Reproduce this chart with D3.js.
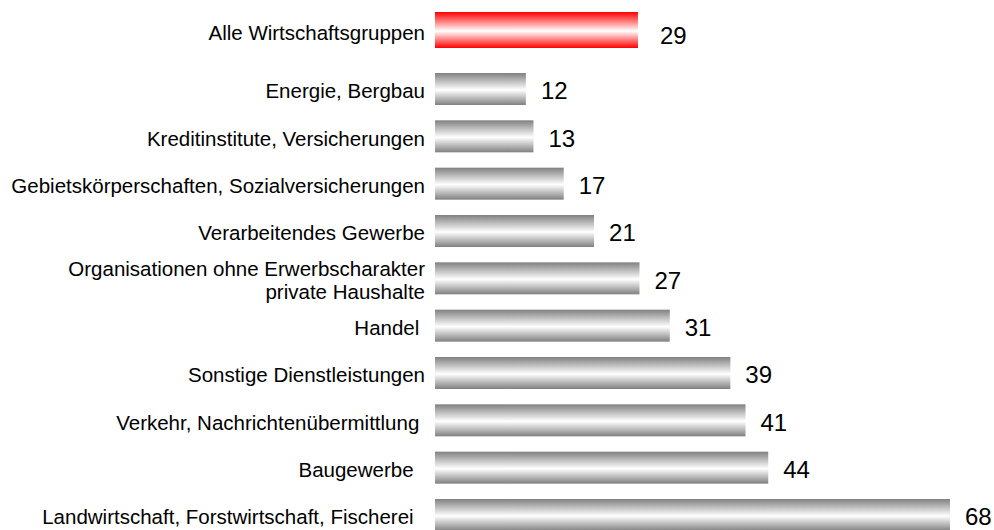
<!DOCTYPE html>
<html>
<head>
<meta charset="utf-8">
<script src="https://cdn.jsdelivr.net/npm/d3@7"></script>
<style>
  body { margin: 0; background: #fff; }
  svg { display: block; font-family: "Liberation Sans", Arial, sans-serif; }
  text { white-space: pre; }
</style>
</head>
<body>
<script>
// total row (red)
let totalName = "Alle Wirtschaftsgruppen"
let totalValue = 26.8   // bar length as drawn
let totalLabel = "29"   // number printed next to it

let categories = [
    "Energie, Bergbau",
    "Kreditinstitute, Versicherungen",
    "Gebietskörperschaften, Sozialversicherungen",
    "Verarbeitendes Gewerbe",
    "Organisationen ohne Erwerbscharakter\nprivate Haushalte",
    "Handel ",
    "Sonstige Dienstleistungen",
    "Verkehr, Nachrichtenübermittlung ",
    "Baugewerbe  ",
    "Landwirtschaft, Forstwirtschaft, Fischerei  "
]
let values = [12, 13, 17, 21, 27, 31, 39, 41, 44, 68]
let valueLabels = ["12", "13", "17", "21", "27", "31", "39", "41", "44", "68"]

var width = 994, height = 530

var svg = d3.select("body").append("svg")
    .attr("width", width)
    .attr("height", height)

var defs = svg.append("defs")

function addGradient(id, edge) {
    let g = defs.append("linearGradient")
        .attr("id", id)
        .attr("x1", 0).attr("y1", 0).attr("x2", 0).attr("y2", 1)
    g.append("stop").attr("offset", "0%").attr("stop-color", edge)
    g.append("stop").attr("offset", "53%").attr("stop-color", "#ffffff")
    g.append("stop").attr("offset", "100%").attr("stop-color", edge)
}
addGradient("grayGrad", "#808080")
addGradient("redGrad", "#ff0000")

var x = d3.scaleLinear()
    .domain([0, 68])
    .range([435, 950])

var y = d3.scaleBand()
    .domain(categories)
    .range([73, 531])
    .paddingInner(0.324)

var labelX = 425
var labelSize = 20.5

// total bar
svg.append("rect")
    .attr("x", x(0))
    .attr("y", 12)
    .attr("width", x(totalValue) - x(0))
    .attr("height", 36)
    .attr("fill", "url(#redGrad)")

svg.append("text")
    .attr("x", labelX)
    .attr("y", 33)
    .attr("dy", "0.35em")
    .attr("text-anchor", "end")
    .attr("font-size", labelSize)
    .attr("fill", "#000")
    .text(totalName)

svg.append("text")
    .attr("x", x(totalValue) + 22)
    .attr("y", 36)
    .attr("dy", "0.35em")
    .attr("font-size", 24)
    .attr("fill", "#000")
    .text(totalLabel)

// category bars
svg.selectAll(".bar")
    .data(categories)
    .enter().append("rect")
    .attr("class", "bar")
    .attr("x", x(0))
    .attr("y", d => y(d))
    .attr("width", (d, i) => x(values[i]) - x(0))
    .attr("height", y.bandwidth())
    .attr("fill", "url(#grayGrad)")

svg.selectAll(".cat")
    .data(categories)
    .enter().append("text")
    .attr("class", "cat")
    .attr("text-anchor", "end")
    .attr("font-size", labelSize)
    .attr("fill", "#000")
    .each(function (d) {
        let lines = d.split("\n")
        let cy = y(d) + y.bandwidth() / 2 + 2
        let t = d3.select(this)
        lines.forEach((line, k) => {
            t.append("tspan")
                .attr("x", labelX)
                .attr("y", cy + (k - (lines.length - 1) / 2) * 23)
                .attr("dy", "0.35em")
                .text(line)
        })
    })

svg.selectAll(".val")
    .data(categories)
    .enter().append("text")
    .attr("class", "val")
    .attr("x", (d, i) => x(values[i]) + 15)
    .attr("y", d => y(d) + y.bandwidth() / 2 + 2)
    .attr("dy", "0.35em")
    .attr("font-size", 24)
    .attr("fill", "#000")
    .text((d, i) => valueLabels[i])
</script>
</body>
</html>
